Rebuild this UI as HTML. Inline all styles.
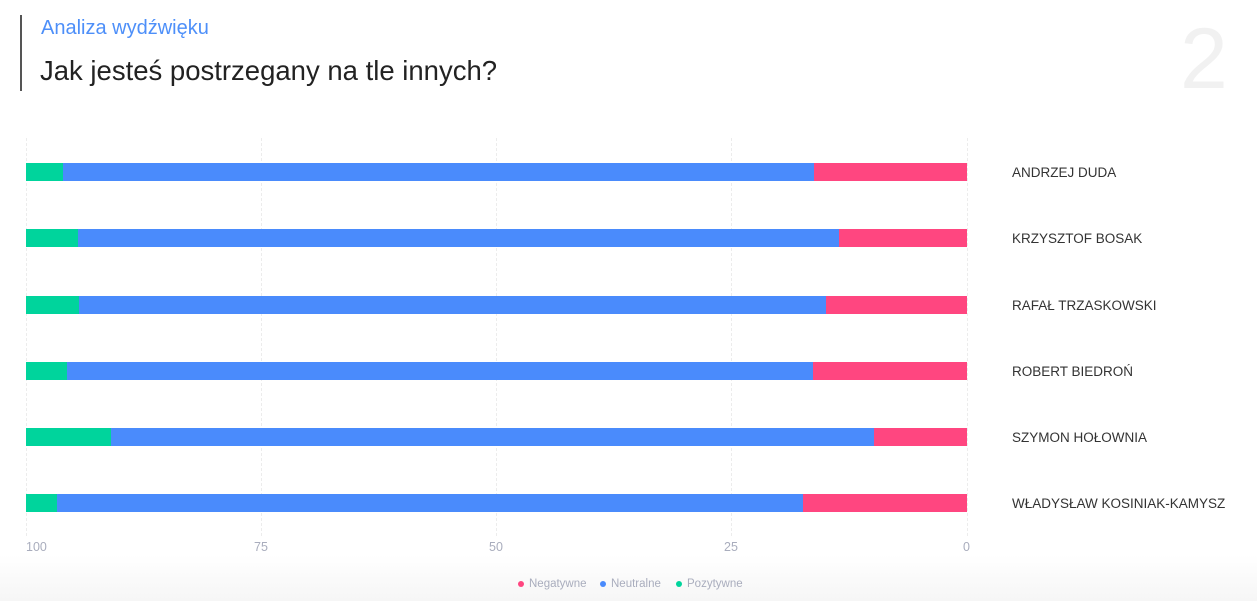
<!DOCTYPE html>
<html><head><meta charset="utf-8"><style>
html,body{margin:0;padding:0;}
body{width:1257px;height:601px;position:relative;overflow:hidden;background:#fff;font-family:"Liberation Sans","DejaVu Sans",sans-serif;}
.abs{position:absolute;}
.bot{left:0;top:555px;width:1257px;height:46px;background:linear-gradient(#fff,#f6f6f6);}
.grid{position:absolute;top:138px;height:398px;border-left:1px dashed #ececec;width:0;}
.bar{position:absolute;height:18px;}
.g{background:#00d49c;}.b{background:#4a8bfc;}.p{background:#ff4680;}
.name{position:absolute;left:1012px;font-size:13.5px;color:#333;line-height:18px;}
.tick{position:absolute;top:540px;font-size:12.5px;color:#a9adbd;}
.leg{position:absolute;top:578px;font-size:11.5px;color:#a9adbd;}
.dot{display:inline-block;width:6px;height:6px;border-radius:50%;margin-right:5px;vertical-align:middle;}
</style></head><body>
<div class="abs bot"></div>
<div class="abs" style="left:20px;top:15px;width:2px;height:76px;background:#555;"></div>
<div class="abs" style="left:41px;top:17px;font-size:20px;color:#4d8ff9;">Analiza wydźwięku</div>
<div class="abs" style="left:40px;top:55px;font-size:27.5px;color:#222;">Jak jesteś postrzegany na tle innych?</div>
<div class="abs" style="left:1180px;top:10px;font-size:86px;color:#f1f1f1;font-weight:100;">2</div>

<div class="grid" style="left:26px"></div>
<div class="grid" style="left:261px"></div>
<div class="grid" style="left:496px"></div>
<div class="grid" style="left:731px"></div>
<div class="grid" style="left:967px"></div>

<div class="bar g" style="left:26px;width:37px;top:163px"></div><div class="bar b" style="left:63px;width:751px;top:163px"></div><div class="bar p" style="left:814px;width:153px;top:163px"></div>
<div class="bar g" style="left:26px;width:52px;top:229px"></div><div class="bar b" style="left:78px;width:761px;top:229px"></div><div class="bar p" style="left:839px;width:128px;top:229px"></div>
<div class="bar g" style="left:26px;width:53px;top:296px"></div><div class="bar b" style="left:79px;width:747px;top:296px"></div><div class="bar p" style="left:826px;width:141px;top:296px"></div>
<div class="bar g" style="left:26px;width:41px;top:362px"></div><div class="bar b" style="left:67px;width:746px;top:362px"></div><div class="bar p" style="left:813px;width:154px;top:362px"></div>
<div class="bar g" style="left:26px;width:85px;top:428px"></div><div class="bar b" style="left:111px;width:763px;top:428px"></div><div class="bar p" style="left:874px;width:93px;top:428px"></div>
<div class="bar g" style="left:26px;width:31px;top:494px"></div><div class="bar b" style="left:57px;width:746px;top:494px"></div><div class="bar p" style="left:803px;width:164px;top:494px"></div>

<div class="name" style="top:164px">ANDRZEJ DUDA</div>
<div class="name" style="top:230px">KRZYSZTOF BOSAK</div>
<div class="name" style="top:297px">RAFAŁ TRZASKOWSKI</div>
<div class="name" style="top:363px">ROBERT BIEDROŃ</div>
<div class="name" style="top:429px">SZYMON HOŁOWNIA</div>
<div class="name" style="top:495px">WŁADYSŁAW KOSINIAK-KAMYSZ</div>

<div class="tick" style="left:26px">100</div>
<div class="tick" style="left:254px">75</div>
<div class="tick" style="left:489px">50</div>
<div class="tick" style="left:724px">25</div>
<div class="tick" style="left:963px">0</div>

<div class="leg" style="left:518px"><span class="dot" style="background:#ff4680"></span>Negatywne</div>
<div class="leg" style="left:600px"><span class="dot" style="background:#4a8bfc"></span>Neutralne</div>
<div class="leg" style="left:676px"><span class="dot" style="background:#00d49c"></span>Pozytywne</div>
</body></html>
